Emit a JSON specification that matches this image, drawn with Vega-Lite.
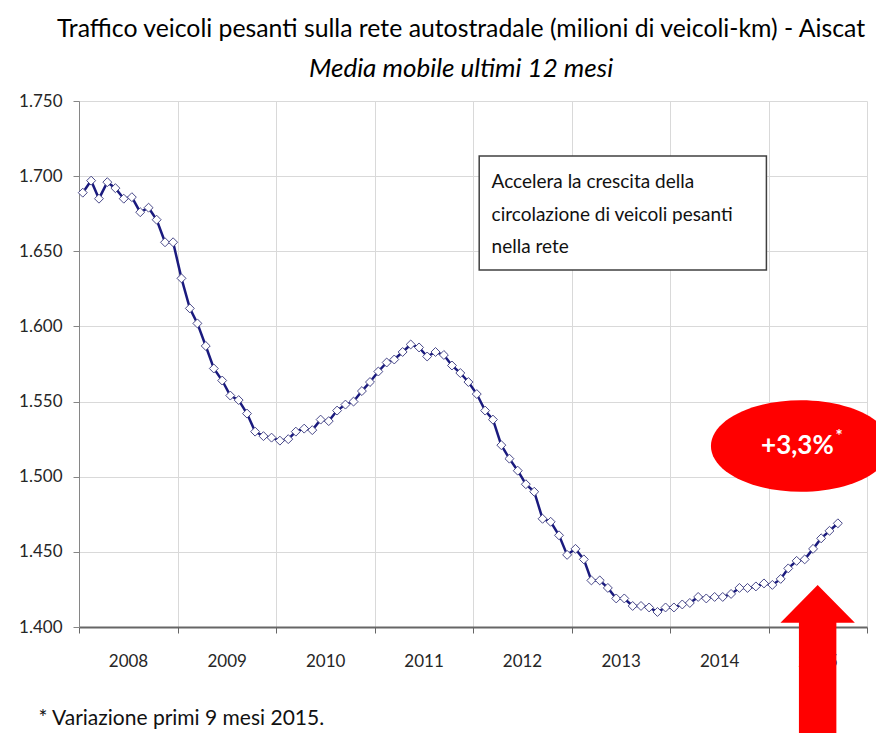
{
  "$schema": "https://vega.github.io/schema/vega-lite/v6.json",
  "width": 788,
  "height": 526,
  "autosize": {"type": "none"},
  "padding": {"left": 79, "top": 101, "right": 9, "bottom": 106},
  "background": "white",
  "config": {
    "view": {"stroke": null},
    "font": "Lato",
    "locale": {"number": {"decimal": ",", "thousands": ".", "grouping": [3], "currency": ["€", ""]}}
  },
  "title": {
    "text": "Traffico veicoli pesanti sulla rete autostradale (milioni di veicoli-km) - Aiscat",
    "subtitle": "Media mobile ultimi 12 mesi",
    "anchor": "middle",
    "dx": -12,
    "offset": 10,
    "font": "Lato",
    "fontSize": 24.8,
    "fontWeight": "normal",
    "color": "#000000",
    "subtitleFont": "Lato",
    "subtitleFontSize": 26,
    "subtitleFontStyle": "italic",
    "subtitleColor": "#000000",
    "subtitlePadding": 14
  },
  "datasets": {
    "traffic": [
      {"date": "2008-01-15", "value": 1689}, {"date": "2008-02-15", "value": 1697}, {"date": "2008-03-15", "value": 1685}, {"date": "2008-04-15", "value": 1696},
      {"date": "2008-05-15", "value": 1692}, {"date": "2008-06-15", "value": 1685}, {"date": "2008-07-15", "value": 1686}, {"date": "2008-08-15", "value": 1676},
      {"date": "2008-09-15", "value": 1679}, {"date": "2008-10-15", "value": 1671}, {"date": "2008-11-15", "value": 1656}, {"date": "2008-12-15", "value": 1656},
      {"date": "2009-01-15", "value": 1632}, {"date": "2009-02-15", "value": 1612}, {"date": "2009-03-15", "value": 1602}, {"date": "2009-04-15", "value": 1587},
      {"date": "2009-05-15", "value": 1572}, {"date": "2009-06-15", "value": 1564}, {"date": "2009-07-15", "value": 1554}, {"date": "2009-08-15", "value": 1551},
      {"date": "2009-09-15", "value": 1542}, {"date": "2009-10-15", "value": 1530}, {"date": "2009-11-15", "value": 1527}, {"date": "2009-12-15", "value": 1526},
      {"date": "2010-01-15", "value": 1524}, {"date": "2010-02-15", "value": 1525}, {"date": "2010-03-15", "value": 1530}, {"date": "2010-04-15", "value": 1532},
      {"date": "2010-05-15", "value": 1531}, {"date": "2010-06-15", "value": 1538}, {"date": "2010-07-15", "value": 1537}, {"date": "2010-08-15", "value": 1544},
      {"date": "2010-09-15", "value": 1548}, {"date": "2010-10-15", "value": 1550}, {"date": "2010-11-15", "value": 1557}, {"date": "2010-12-15", "value": 1563},
      {"date": "2011-01-15", "value": 1570}, {"date": "2011-02-15", "value": 1576}, {"date": "2011-03-15", "value": 1578}, {"date": "2011-04-15", "value": 1583},
      {"date": "2011-05-15", "value": 1588}, {"date": "2011-06-15", "value": 1586}, {"date": "2011-07-15", "value": 1580}, {"date": "2011-08-15", "value": 1583},
      {"date": "2011-09-15", "value": 1581}, {"date": "2011-10-15", "value": 1574}, {"date": "2011-11-15", "value": 1569}, {"date": "2011-12-15", "value": 1563},
      {"date": "2012-01-15", "value": 1555}, {"date": "2012-02-15", "value": 1544}, {"date": "2012-03-15", "value": 1538}, {"date": "2012-04-15", "value": 1521},
      {"date": "2012-05-15", "value": 1512}, {"date": "2012-06-15", "value": 1504}, {"date": "2012-07-15", "value": 1495}, {"date": "2012-08-15", "value": 1490},
      {"date": "2012-09-15", "value": 1472}, {"date": "2012-10-15", "value": 1470}, {"date": "2012-11-15", "value": 1461}, {"date": "2012-12-15", "value": 1448},
      {"date": "2013-01-15", "value": 1452}, {"date": "2013-02-15", "value": 1445}, {"date": "2013-03-15", "value": 1431}, {"date": "2013-04-15", "value": 1431},
      {"date": "2013-05-15", "value": 1426}, {"date": "2013-06-15", "value": 1419}, {"date": "2013-07-15", "value": 1419}, {"date": "2013-08-15", "value": 1414},
      {"date": "2013-09-15", "value": 1414}, {"date": "2013-10-15", "value": 1413}, {"date": "2013-11-15", "value": 1410}, {"date": "2013-12-15", "value": 1413},
      {"date": "2014-01-15", "value": 1413}, {"date": "2014-02-15", "value": 1415}, {"date": "2014-03-15", "value": 1416}, {"date": "2014-04-15", "value": 1420},
      {"date": "2014-05-15", "value": 1419}, {"date": "2014-06-15", "value": 1420}, {"date": "2014-07-15", "value": 1420}, {"date": "2014-08-15", "value": 1422},
      {"date": "2014-09-15", "value": 1426}, {"date": "2014-10-15", "value": 1426}, {"date": "2014-11-15", "value": 1427}, {"date": "2014-12-15", "value": 1429},
      {"date": "2015-01-15", "value": 1428}, {"date": "2015-02-15", "value": 1432}, {"date": "2015-03-15", "value": 1439}, {"date": "2015-04-15", "value": 1444},
      {"date": "2015-05-15", "value": 1445}, {"date": "2015-06-15", "value": 1452}, {"date": "2015-07-15", "value": 1459}, {"date": "2015-08-15", "value": 1464},
      {"date": "2015-09-15", "value": 1469}
    ],
    "box": [
      {"date": "2012-01-24", "date2": "2014-12-24", "value": 1637.5, "value2": 1713.4}
    ],
    "boxText": [
      {"date": "2012-03-10", "value": 1696, "text": "Accelera la crescita della"},
      {"date": "2012-03-10", "value": 1674, "text": "circolazione di veicoli pesanti"},
      {"date": "2012-03-10", "value": 1653, "text": "nella rete"}
    ],
    "badgeEllipse": [
      {"date": "2015-05-01", "value": 1520.4}
    ],
    "badge": [
      {"date": "2015-04-18", "value": 1520.4, "text": "+3,3%"}
    ],
    "badgeStar": [
      {"date": "2015-09-20", "value": 1526.4, "text": "*"}
    ],
    "arrow": [
      {"date": "2015-07-02", "value": 1378}
    ]
  },
  "layer": [
    {
      "data": {"name": "traffic"},
      "mark": {"type": "line", "color": "#1a1a7e", "strokeWidth": 2.5},
      "encoding": {
        "x": {
          "field": "date", "type": "temporal",
          "scale": {"type": "utc", "domain": [{"year": 2008, "month": 1, "date": 1, "utc": true}, {"year": 2016, "month": 1, "date": 1, "utc": true}]},
          "axis": {
            "values": [
              {"year": 2008, "month": 1, "date": 1, "utc": true}, {"year": 2009, "month": 1, "date": 1, "utc": true},
              {"year": 2010, "month": 1, "date": 1, "utc": true}, {"year": 2011, "month": 1, "date": 1, "utc": true},
              {"year": 2012, "month": 1, "date": 1, "utc": true}, {"year": 2013, "month": 1, "date": 1, "utc": true},
              {"year": 2014, "month": 1, "date": 1, "utc": true}, {"year": 2015, "month": 1, "date": 1, "utc": true},
              {"year": 2016, "month": 1, "date": 1, "utc": true}
            ],
            "format": "%Y",
            "labelExpr": "utcyear(datum.value) > 2015 ? '' : datum.label",
            "labelOffset": 49,
            "labelPadding": 20,
            "labelFont": "Lato",
            "labelFontSize": 17,
            "labelColor": "#262626",
            "labelFlush": false,
            "labelOverlap": false,
            "tickSize": 6,
            "tickColor": "#666666",
            "domainColor": "#666666",
            "domainWidth": 1.8,
            "grid": true,
            "gridColor": "#d9d9d9",
            "gridWidth": 1,
            "title": "* Variazione primi 9 mesi 2015.",
            "titleX": -41,
            "titleY": 91,
            "titleAlign": "left",
            "titleBaseline": "middle",
            "titleFont": "Lato",
            "titleFontSize": 21,
            "titleFontWeight": "normal",
            "titleColor": "#111111"
          }
        },
        "y": {
          "field": "value", "type": "quantitative",
          "scale": {"domain": [1400, 1750], "nice": false, "zero": false},
          "axis": {
            "values": [1400, 1450, 1500, 1550, 1600, 1650, 1700, 1750],
            "format": ",d",
            "labelFont": "Lato",
            "labelFontSize": 17,
            "labelColor": "#262626",
            "labelPadding": 11,
            "tickSize": 6,
            "tickColor": "#868686",
            "domainColor": "#868686",
            "grid": true,
            "gridColor": "#d9d9d9",
            "gridWidth": 1,
            "title": null
          }
        }
      }
    },
    {
      "data": {"name": "traffic"},
      "mark": {"type": "point", "shape": "diamond", "filled": true, "fill": "white", "stroke": "#4a4a8a", "strokeWidth": 1, "size": 80, "opacity": 1},
      "encoding": {
        "x": {"field": "date", "type": "temporal"},
        "y": {"field": "value", "type": "quantitative"}
      }
    },
    {
      "data": {"name": "box"},
      "mark": {"type": "rect", "fill": "white", "stroke": "#404040", "strokeWidth": 1.5},
      "encoding": {
        "x": {"field": "date", "type": "temporal"},
        "x2": {"field": "date2"},
        "y": {"field": "value", "type": "quantitative"},
        "y2": {"field": "value2"}
      }
    },
    {
      "data": {"name": "boxText"},
      "mark": {"type": "text", "align": "left", "baseline": "middle", "font": "Lato", "fontSize": 19, "color": "#111111"},
      "encoding": {
        "x": {"field": "date", "type": "temporal"},
        "y": {"field": "value", "type": "quantitative"},
        "text": {"field": "text"}
      }
    },
    {
      "data": {"name": "badgeEllipse"},
      "mark": {"type": "point", "shape": "M 1 0 C 1 0.281 0.552 0.509 0 0.509 C -0.552 0.509 -1 0.281 -1 0 C -1 -0.281 -0.552 -0.509 0 -0.509 C 0.552 -0.509 1 -0.281 1 0 Z", "filled": true, "fill": "#ff0000", "strokeWidth": 0, "size": 32400, "opacity": 1},
      "encoding": {
        "x": {"field": "date", "type": "temporal"},
        "y": {"field": "value", "type": "quantitative"}
      }
    },
    {
      "data": {"name": "badge"},
      "mark": {"type": "text", "align": "center", "baseline": "middle", "font": "Lato", "fontSize": 26, "fontWeight": "bold", "color": "white"},
      "encoding": {
        "x": {"field": "date", "type": "temporal"},
        "y": {"field": "value", "type": "quantitative"},
        "text": {"field": "text"}
      }
    },
    {
      "data": {"name": "badgeStar"},
      "mark": {"type": "text", "align": "center", "baseline": "middle", "font": "Lato", "fontSize": 17, "fontWeight": "bold", "color": "white"},
      "encoding": {
        "x": {"field": "date", "type": "temporal"},
        "y": {"field": "value", "type": "quantitative"},
        "text": {"field": "text"}
      }
    },
    {
      "data": {"name": "arrow"},
      "mark": {"type": "point", "shape": "M 0 -0.9375 L 0.465 -0.466 L 0.234 -0.466 L 0.234 1 L -0.234 1 L -0.234 -0.466 L -0.465 -0.466 Z", "filled": true, "fill": "#ff0000", "strokeWidth": 0, "size": 25600, "opacity": 1},
      "encoding": {
        "x": {"field": "date", "type": "temporal"},
        "y": {"field": "value", "type": "quantitative"}
      }
    }
  ]
}
